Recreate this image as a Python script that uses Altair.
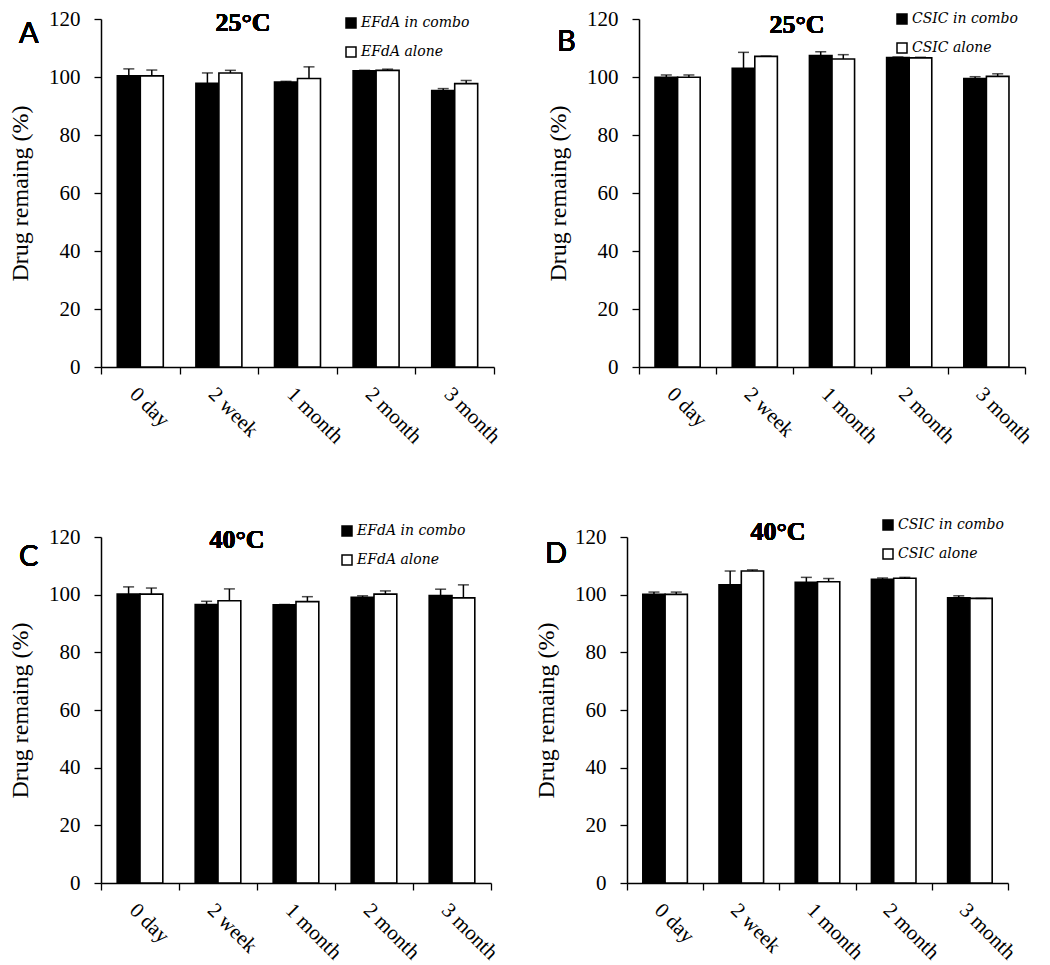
import altair as alt
import pandas as pd

times = ["0 day", "2 week", "1 month", "2 month", "3 month"]

# Panel A: EFdA, 25 °C
a_combo = [100.4, 97.8, 98.3, 102.1, 95.3]
a_combo_err = [2.4, 3.6, 0.2, 0.2, 0.7]
a_alone = [100.4, 101.4, 99.5, 102.3, 97.7]
a_alone_err = [2.0, 0.9, 4.0, 0.4, 1.1]

# Panel B: CSIC, 25 °C
b_combo = [99.9, 103.0, 107.4, 106.7, 99.5]
b_combo_err = [0.8, 5.5, 1.3, 0.2, 0.6]
b_alone = [99.9, 107.1, 106.2, 106.6, 100.2]
b_alone_err = [0.8, 0.1, 1.5, 0.2, 0.9]

# Panel C: EFdA, 40 °C
c_combo = [100.2, 96.6, 96.5, 99.1, 99.7]
c_combo_err = [2.5, 1.1, 0.1, 0.5, 2.2]
c_alone = [100.2, 97.9, 97.6, 100.2, 98.9]
c_alone_err = [2.1, 4.1, 1.7, 1.1, 4.5]

# Panel D: CSIC, 40 °C
d_combo = [100.1, 103.4, 104.3, 105.3, 98.9]
d_combo_err = [0.8, 4.8, 1.7, 0.5, 0.7]
d_alone = [100.1, 108.2, 104.5, 105.7, 98.7]
d_alone_err = [0.8, 0.4, 1.1, 0.3, 0.0]

y_ticks = [0, 20, 40, 60, 80, 100, 120]

SERIF = "Liberation Serif"


def panel(letter, temp, drug, combo, combo_err, alone, alone_err,
          w, h, lx, ly, tx, ty, ly_letter):
    series = [f"{drug} in combo", f"{drug} alone"]
    rows = []
    for i, t in enumerate(times):
        rows.append({"time": t, "series": series[0], "value": combo[i],
                     "top": combo[i] + combo_err[i]})
        rows.append({"time": t, "series": series[1], "value": alone[i],
                     "top": alone[i] + alone_err[i]})
    df = pd.DataFrame(rows)
    base = alt.Chart(df)

    x = alt.X("time:N", sort=times, title=None,
              scale=alt.Scale(paddingInner=0, paddingOuter=0),
              axis=alt.Axis(labelAngle=45, tickBand="extent", labelFont=SERIF,
                            labelFontSize=21, labelColor="black",
                            labelPadding=9, tickSize=7, tickColor="black",
                            tickWidth=1.3, domainColor="black",
                            domainWidth=1.5, labelAlign="left",
                            labelBaseline="top"))
    xo = alt.XOffset("series:N", sort=series,
                     scale=alt.Scale(paddingInner=0, paddingOuter=0.71))
    y_axis = alt.Axis(values=y_ticks, title="Drug remaing (%)",
                      titleFont=SERIF, titleFontSize=24,
                      titleFontWeight="normal", titleColor="black",
                      titlePadding=16, labelFont=SERIF, labelFontSize=21,
                      labelColor="black", labelPadding=14, tickSize=7,
                      tickColor="black", tickWidth=1.3, domainColor="black",
                      domainWidth=1.5, grid=False)

    bars = base.mark_bar(stroke="black", strokeWidth=1.6).encode(
        x=x, xOffset=xo,
        y=alt.Y("value:Q", scale=alt.Scale(domain=[0, 120], nice=False),
                axis=y_axis),
        fill=alt.Fill("series:N", sort=series,
                      scale=alt.Scale(domain=series, range=["black", "white"]),
                      legend=alt.Legend(title=None, orient="none",
                                        legendX=lx, legendY=ly,
                                        symbolType="square", symbolSize=100,
                                        symbolStrokeColor="black",
                                        symbolStrokeWidth=1.5,
                                        labelFont="DejaVu Serif",
                                        labelFontStyle="italic",
                                        labelFontSize=14, labelColor="black",
                                        labelOffset=3, rowPadding=13,
                                        padding=0)),
    )
    err = base.mark_rule(color="black", strokeWidth=1.5).encode(
        x=x, xOffset=xo, y="value:Q", y2="top:Q")
    caps = base.mark_tick(color="black", thickness=1.5, size=11).encode(
        x=x, xOffset=xo, y="top:Q")
    lab = base.mark_text(font="Lato", fontSize=29, align="left",
                         baseline="alphabetic", color="black").encode(
        x=alt.value(-82), y=alt.value(ly_letter), text=alt.value(letter))
    ttl = base.mark_text(font=SERIF, fontSize=26, fontWeight="bold",
                         align="center", baseline="alphabetic",
                         color="black").encode(
        x=alt.value(tx), y=alt.value(ty), text=alt.value(temp))

    return alt.layer(bars, err, caps, lab, ttl).properties(width=w, height=h)


A = panel("A", "25°C", "EFdA", a_combo, a_combo_err, a_alone, a_alone_err,
          393, 348, 243, -3, 142, 12, 24)
B = panel("B", "25°C", "CSIC", b_combo, b_combo_err, b_alone, b_alone_err,
          386, 348, 256, -7, 158, 14, 32)
C = panel("C", "40°C", "EFdA", c_combo, c_combo_err, c_alone, c_alone_err,
          390, 346, 239, -13, 136, 11, 29)
D = panel("D", "40°C", "CSIC", d_combo, d_combo_err, d_alone, d_alone_err,
          381, 346, 254, -19, 151, 3, 26)

res = dict(x="independent", y="independent", xOffset="independent",
           fill="independent")

row1 = alt.hconcat(A, B, spacing=42).resolve_scale(**res).resolve_legend(
    fill="independent").resolve_axis(x="independent", y="independent")
row2 = alt.hconcat(C, D, spacing=32).resolve_scale(**res).resolve_legend(
    fill="independent").resolve_axis(x="independent", y="independent")

chart = alt.vconcat(row1, row2, spacing=71).resolve_scale(**res).resolve_legend(
    fill="independent").configure_view(stroke=None).properties(
    padding=0, background="white")

chart.save("out.html", embed_options={"renderer": "svg", "actions": False})
